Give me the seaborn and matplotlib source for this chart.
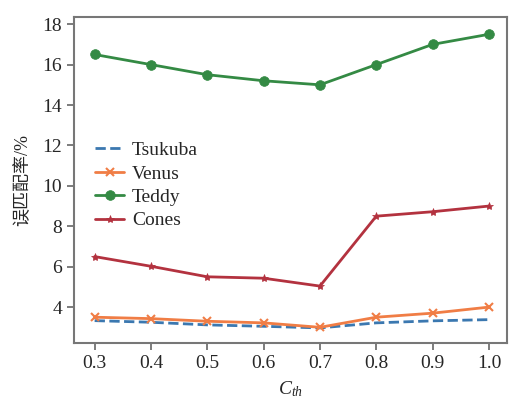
import seaborn as sns
import matplotlib.pyplot as plt
import pandas as pd

c_th = [0.3, 0.4, 0.5, 0.6, 0.7, 0.8, 0.9, 1.0]
tsukuba = [3.33, 3.25, 3.12, 3.05, 2.97, 3.22, 3.32, 3.38]
venus = [3.5, 3.43, 3.3, 3.22, 3.0, 3.5, 3.7, 4.0]
teddy = [16.5, 16.0, 15.5, 15.2, 15.0, 16.0, 17.0, 17.5]
cones = [6.5, 6.02, 5.5, 5.43, 5.04, 8.5, 8.72, 9.0]

names = ["Tsukuba", "Venus", "Teddy", "Cones"]
series = [tsukuba, venus, teddy, cones]
rows = []
for n, s in zip(names, series):
    for x, y in zip(c_th, s):
        rows.append((n, x, y))
df = pd.DataFrame(rows, columns=["dataset", "c_th", "rate"])

sns.set_style("ticks")
plt.rcParams['font.family'] = ['Liberation Serif', 'Noto Sans CJK SC']
plt.rcParams['mathtext.fontset'] = 'custom'
plt.rcParams['mathtext.it'] = 'Liberation Serif:italic'
plt.rcParams['mathtext.rm'] = 'Liberation Serif'

palette = {"Tsukuba": "#3b78b0", "Venus": "#f07d45", "Teddy": "#348a44", "Cones": "#b3323f"}
markers = {"Tsukuba": None, "Venus": "x", "Teddy": "o", "Cones": "*"}
msizes = {"Tsukuba": 0, "Venus": 6, "Teddy": 7, "Cones": 6}

fig = plt.figure(figsize=(5.09, 3.98), dpi=100)
ax = fig.add_axes([0.145, 0.138, 0.851, 0.819])
for n in names:
    d = df[df["dataset"] == n]
    sns.lineplot(data=d, x="c_th", y="rate", ax=ax, color=palette[n], label=n,
                 marker=markers[n], markersize=msizes[n],
                 markeredgewidth=1.5 if n == "Venus" else 0.5, markeredgecolor=palette[n],
                 linewidth=2, linestyle="--" if n == "Tsukuba" else "-")

ax.set_xlim(0.263, 1.032)
ax.set_ylim(2.22, 18.35)
ax.set_xticks(c_th)
ax.set_xticklabels(["0.3", "0.4", "0.5", "0.6", "0.7", "0.8", "0.9", "1.0"])
ax.set_yticks([4, 6, 8, 10, 12, 14, 16, 18])
ax.tick_params(labelsize=14, color="#666666", length=5, width=1.2)
for sp in ax.spines.values():
    sp.set_color("#777777")
    sp.set_linewidth(1.5)
ax.set_xlabel("$C_{th}$", fontsize=14, labelpad=5)
ax.set_ylabel("误匹配率/%", fontsize=13, labelpad=8)
ax.legend(loc="upper left", bbox_to_anchor=(0.018, 0.66), frameon=False, fontsize=14,
          handlelength=1.5, handletextpad=0.4, labelspacing=0.3, borderaxespad=0.3)

fig.savefig("out.png", dpi=100)
